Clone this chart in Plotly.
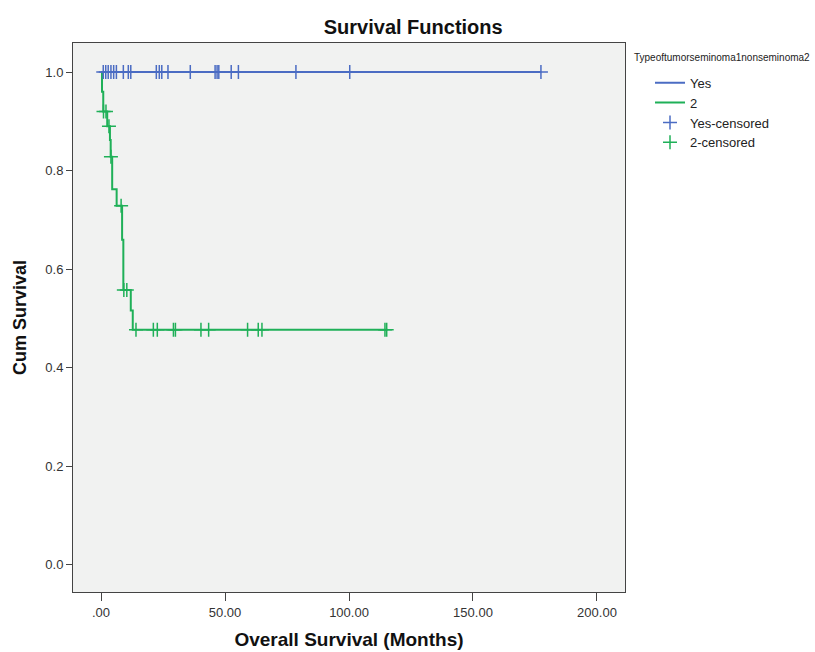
import plotly.graph_objects as go

# ---- data ----
x_tick_vals = [0, 50, 100, 150, 200]
x_tick_text = [".00", "50.00", "100.00", "150.00", "200.00"]
y_tick_vals = [0.0, 0.2, 0.4, 0.6, 0.8, 1.0]
y_tick_text = ["0.0", "0.2", "0.4", "0.6", "0.8", "1.0"]

# Group "Yes" (seminoma): no events
yes_step_t = [0.0, 177.4]
yes_step_s = [1.0, 1.0]
yes_cens_t = [0.9, 1.9, 2.9, 4.0, 5.1, 6.2, 9.0, 11.0, 12.0, 22.3, 23.5, 24.5, 27.0,
              36.0, 46.0, 46.8, 47.5, 52.5, 55.4, 78.6, 100.3, 177.4]

# Group "2" (nonseminoma): Kaplan-Meier steps
ns_step_t = [0.0, 0.4, 0.9, 2.5, 3.6, 3.9, 4.5, 6.3, 8.5, 9.0, 12.0, 12.8, 115.5]
ns_step_s = [1.0, 0.96, 0.92, 0.89, 0.862, 0.828, 0.762, 0.729, 0.66, 0.558, 0.516, 0.477, 0.477]
ns_cens_t = [1.0, 2.0, 3.2, 4.0, 8.1, 9.2, 10.4, 14.1, 21.1, 22.7, 29.2, 30.0,
             40.3, 43.4, 59.1, 63.4, 64.9, 114.5, 115.2]

legend_title = "Typeoftumorseminoma1nonseminoma2"
names = ["Yes", "2", "Yes-censored", "2-censored"]

BLUE = "#4B6CC3"
GREEN = "#1FB058"


def surv_at(times, levels, t):
    s = levels[0]
    for ti, si in zip(times, levels):
        if ti <= t:
            s = si
    return s


fig = go.Figure()
fig.add_trace(go.Scatter(x=yes_step_t, y=yes_step_s, mode="lines", line_shape="hv",
                         line=dict(color=BLUE, width=2), name=names[0]))
fig.add_trace(go.Scatter(x=ns_step_t, y=ns_step_s, mode="lines", line_shape="hv",
                         line=dict(color=GREEN, width=2), name=names[1]))
fig.add_trace(go.Scatter(x=yes_cens_t, y=[surv_at(yes_step_t, yes_step_s, t) for t in yes_cens_t],
                         mode="markers", name=names[2],
                         marker=dict(symbol="cross-thin", size=10, line=dict(color=BLUE, width=1.5))))
fig.add_trace(go.Scatter(x=ns_cens_t, y=[surv_at(ns_step_t, ns_step_s, t) for t in ns_cens_t],
                         mode="markers", name=names[3],
                         marker=dict(symbol="cross-thin", size=10, line=dict(color=GREEN, width=1.5))))

fig.update_layout(
    width=815, height=652,
    margin=dict(l=73, r=190, t=43, b=60),
    paper_bgcolor="white",
    plot_bgcolor="#F1F2F1",
    font=dict(family="Liberation Sans, Arial, sans-serif", color="#333333", size=13),
    title=dict(text="<b>Survival Functions</b>", x=0.507, xref="container", xanchor="center",
               y=1 - 27 / 652, yref="container", yanchor="middle",
               font=dict(size=20, color="#111111")),
    showlegend=True,
    legend=dict(x=1.0453, xanchor="left", y=0.955, yanchor="top",
                bgcolor="rgba(0,0,0,0)",
                font=dict(size=13, color="#222222"),
                itemwidth=30, tracegroupgap=0),
    annotations=[dict(text=legend_title, x=1.0127, xref="paper", xanchor="left",
                      y=0.9727, yref="paper", yanchor="middle", showarrow=False,
                      font=dict(size=10, color="#222222"))],
)
fig.update_xaxes(range=[-11.3, 211.3], tickvals=x_tick_vals, ticktext=x_tick_text,
                 showgrid=False, zeroline=False, showline=True, mirror=True,
                 linecolor="#444444", linewidth=1, ticks="outside", ticklen=8,
                 tickcolor="#444444", automargin=False,
                 title=dict(text="<b>Overall Survival (Months)</b>", standoff=14,
                            font=dict(size=19, color="#111111")))
fig.update_yaxes(range=[-0.055, 1.059], tickvals=y_tick_vals, ticktext=y_tick_text,
                 showgrid=False, zeroline=False, showline=True, mirror=True,
                 linecolor="#444444", linewidth=1, ticks="outside", ticklen=6,
                 tickcolor="#444444", automargin=False,
                 title=dict(text="<b>Cum Survival</b>", standoff=14,
                            font=dict(size=18, color="#111111")))

fig.write_html("out.html", config={"displayModeBar": False},
               post_script="document.body.style.margin='0';")
